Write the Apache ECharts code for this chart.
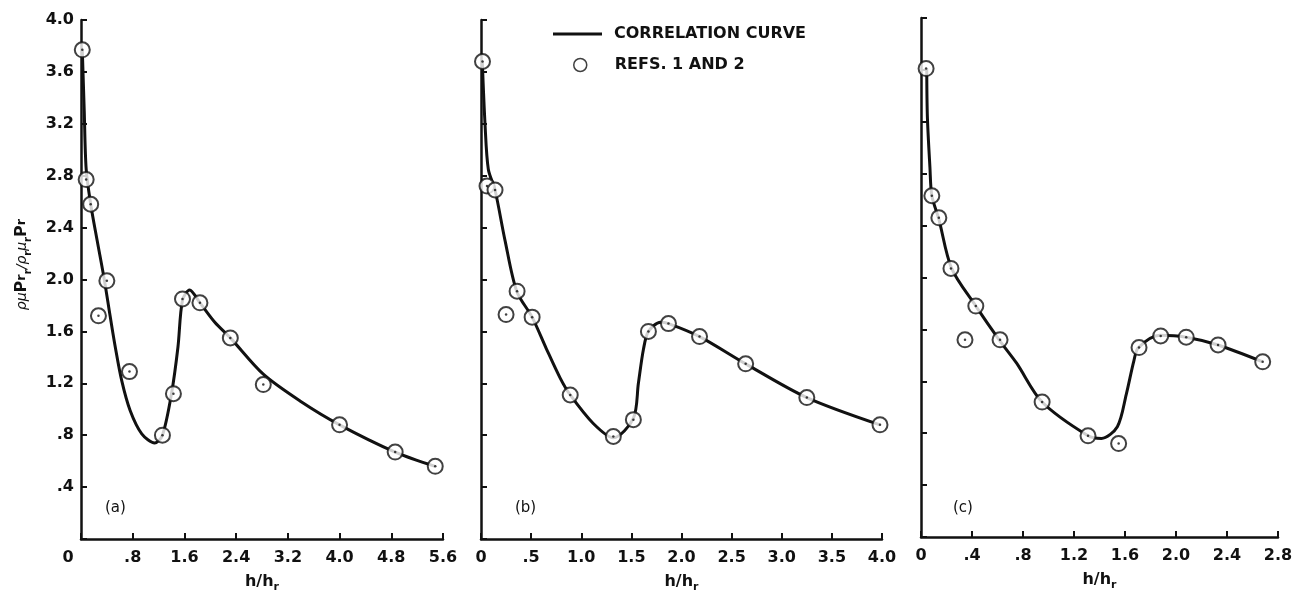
<!DOCTYPE html>
<html>
<head>
<meta charset="utf-8">
<script src="https://cdn.jsdelivr.net/npm/echarts@6/dist/echarts.min.js"></script>
<style>
  html, body { margin: 0; padding: 0; background: #fff; }
  #main { width: 1294px; height: 593px; }
</style>
</head>
<body>
<div id="main"></div>
<script>
// panel (a) data: h/h_r, value
const curveA = [[0.02,3.77],[0.05,3.3],[0.08,2.85],[0.15,2.58],[0.25,2.3],[0.36,2.0],[0.45,1.72],[0.53,1.48],[0.63,1.22],[0.76,0.99],[0.94,0.81],[1.14,0.74],[1.26,0.8],[1.4,1.12],[1.5,1.48],[1.57,1.84],[1.68,1.92],[1.84,1.82],[2.07,1.67],[2.31,1.55],[2.82,1.27],[3.4,1.06],[4.0,0.88],[4.86,0.67],[5.48,0.56]];
const refsA = [[0.02,3.77],[0.08,2.77],[0.15,2.58],[0.27,1.72],[0.4,1.99],[0.75,1.29],[1.26,0.8],[1.43,1.12],[1.57,1.85],[1.84,1.82],[2.31,1.55],[2.82,1.19],[4.0,0.88],[4.86,0.67],[5.48,0.56]];

// panel (b)
const curveB = [[0.013,3.68],[0.04,3.2],[0.073,2.85],[0.14,2.69],[0.24,2.3],[0.356,1.91],[0.51,1.71],[0.65,1.47],[0.79,1.24],[0.89,1.11],[1.12,0.89],[1.32,0.78],[1.52,0.93],[1.57,1.2],[1.62,1.46],[1.67,1.6],[1.79,1.67],[1.87,1.66],[2.18,1.56],[2.64,1.35],[3.25,1.09],[3.98,0.88]];
const refsB = [[0.015,3.68],[0.06,2.72],[0.14,2.69],[0.25,1.73],[0.36,1.91],[0.51,1.71],[0.89,1.11],[1.32,0.79],[1.52,0.92],[1.67,1.6],[1.87,1.66],[2.18,1.56],[2.64,1.35],[3.25,1.09],[3.98,0.88]];

// panel (c)
const curveC = [[0.045,3.61],[0.05,3.24],[0.07,2.85],[0.085,2.63],[0.14,2.45],[0.24,2.07],[0.43,1.78],[0.62,1.51],[0.75,1.34],[0.95,1.04],[1.31,0.78],[1.415,0.76],[1.54,0.85],[1.61,1.1],[1.67,1.36],[1.705,1.46],[1.875,1.555],[2.08,1.54],[2.33,1.48],[2.68,1.35]];
const refsC = [[0.04,3.61],[0.085,2.63],[0.14,2.46],[0.235,2.07],[0.345,1.52],[0.43,1.78],[0.62,1.52],[0.95,1.04],[1.31,0.78],[1.55,0.72],[1.71,1.46],[1.88,1.55],[2.08,1.54],[2.33,1.48],[2.68,1.35]];

// axis ranges (max, tick step)
const xMax = [5.6, 4.0, 2.8];
const xStep = [0.8, 0.5, 0.4];
const yMax = 4.0;
const yStep = 0.4;
const panelLabels = ["(a)", "(b)", "(c)"];

const FONT = "DejaVu Sans";
const INK = "#111";

// .8 instead of 0.8, like the original
function fmtTick(v) {
  if (v === 0) return "0";
  let s = (Math.round(v * 10) / 10).toFixed(1);
  return s.charAt(0) === "0" ? s.slice(1) : s;
}

const grids = [
  { left: 81, top: 20, width: 362, height: 519, outerBoundsMode: "none" },
  { left: 481, top: 20, width: 401, height: 519, outerBoundsMode: "none" },
  { left: 921, top: 18, width: 357, height: 519, outerBoundsMode: "none" }
];

let xAxes = [], yAxes = [], series = [];
const curves = [curveA, curveB, curveC];
const refs = [refsA, refsB, refsC];

for (let i = 0; i < 3; i++) {
  xAxes.push({
    type: "value",
    gridIndex: i,
    min: 0,
    max: xMax[i],
    interval: xStep[i],
    name: "{n|h/h}{s|r}",
    nameLocation: "middle",
    nameGap: 31,
    nameTextStyle: {
      rich: {
        n: { fontFamily: FONT, fontWeight: "bold", fontSize: 16, color: INK },
        s: { fontFamily: FONT, fontWeight: "bold", fontSize: 11, color: INK, padding: [12, 0, 0, 0] }
      }
    },
    axisLine: { lineStyle: { color: INK, width: 2.5 } },
    axisTick: { inside: true, length: 6, lineStyle: { color: INK, width: 2 } },
    splitLine: { show: false },
    axisLabel: {
      margin: 11,
      fontFamily: FONT,
      fontWeight: "bold",
      fontSize: 16,
      color: INK,
      formatter: function (v) {
        // the "0" of panel (a) sits left of the axis
        if (v === 0 && i === 0) return "{z|0}";
        return fmtTick(v);
      },
      rich: {
        z: { fontFamily: FONT, fontWeight: "bold", fontSize: 16, color: INK, padding: [0, 26, 0, 0] }
      }
    }
  });

  yAxes.push({
    type: "value",
    gridIndex: i,
    min: 0,
    max: yMax,
    interval: yStep,
    name: i === 0 ? "{g|ρμ}{b|P}{r|r}{s|r}{g|/ρ}{s|r}{g|μ}{s|r}{b|P}{r|r}" : "",
    nameLocation: "middle",
    nameGap: 48,
    nameRotate: 90,
    nameTextStyle: {
      padding: [0, 0, 0, 30],
      rich: {
        g: { fontFamily: FONT, fontStyle: "italic", fontSize: 14, color: INK },
        b: { fontFamily: FONT, fontWeight: "bold", fontSize: 16, color: INK },
        r: { fontFamily: FONT, fontWeight: "bold", fontSize: 13, color: INK },
        s: { fontFamily: FONT, fontWeight: "bold", fontSize: 10, color: INK, padding: [12, 0, 0, 0] }
      }
    },
    axisLine: { show: true, lineStyle: { color: INK, width: 2.5 } },
    axisTick: { show: true, inside: true, length: 6, lineStyle: { color: INK, width: 2 } },
    splitLine: { show: false },
    axisLabel: {
      show: i === 0,
      margin: 7,
      fontFamily: FONT,
      fontWeight: "bold",
      fontSize: 16,
      color: INK,
      formatter: function (v) {
        return v === 0 ? "" : fmtTick(v);
      }
    }
  });

  series.push({
    name: "CORRELATION CURVE",
    type: "line",
    xAxisIndex: i,
    yAxisIndex: i,
    data: curves[i],
    smooth: 0.3,
    showSymbol: false,
    symbol: "none",
    lineStyle: { color: INK, width: 3 },
    itemStyle: { color: INK },
    z: 2
  });
  series.push({
    name: "REFS. 1 AND 2",
    type: "scatter",
    xAxisIndex: i,
    yAxisIndex: i,
    data: refs[i],
    symbol: "circle",
    symbolSize: 15,
    itemStyle: { color: "#fff", borderColor: INK, borderWidth: 2 },
    z: 3
  });
  // center dot of each data circle
  series.push({
    name: "dot",
    type: "scatter",
    xAxisIndex: i,
    yAxisIndex: i,
    data: refs[i],
    symbol: "circle",
    symbolSize: 2.5,
    itemStyle: { color: INK },
    silent: true,
    z: 4
  });
}

const chart = echarts.init(document.getElementById("main"), null, { renderer: "canvas" });
chart.setOption({
  backgroundColor: "#fff",
  animation: false,
  grid: grids,
  xAxis: xAxes,
  yAxis: yAxes,
  legend: [
    {
      data: [{ name: "CORRELATION CURVE", icon: "rect" }],
      left: 548,
      top: 21,
      itemWidth: 49,
      itemHeight: 3,
      selectedMode: false,
      itemStyle: { color: INK },
      textStyle: { fontFamily: FONT, fontWeight: "bold", fontSize: 16, color: INK, padding: [0, 0, 0, 7] }
    },
    {
      data: [{ name: "REFS. 1 AND 2", icon: "circle" }],
      left: 568,
      top: 52,
      itemWidth: 13,
      itemHeight: 13,
      selectedMode: false,
      itemStyle: { color: "#fff", borderColor: INK, borderWidth: 1.5 },
      textStyle: { fontFamily: FONT, fontWeight: "bold", fontSize: 16, color: INK, padding: [0, 0, 0, 23] }
    }
  ],
  graphic: panelLabels.map(function (t, i) {
    return {
      type: "text",
      left: grids[i].left + [24, 34, 32][i],
      top: 501,
      style: { text: t, font: "15px " + FONT, fill: INK }
    };
  }),
  series: series
});
</script>
</body>
</html>
